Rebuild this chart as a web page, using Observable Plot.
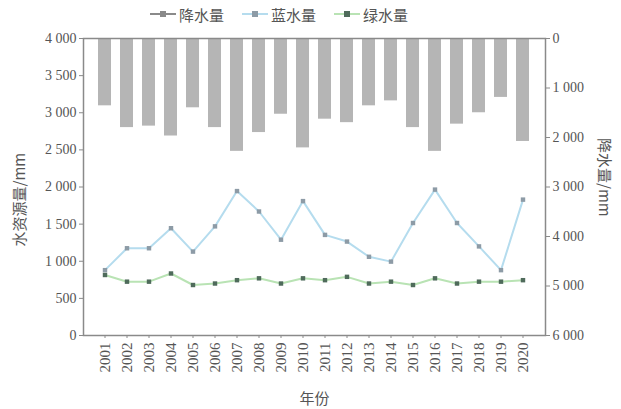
<!DOCTYPE html>
<html><head><meta charset="utf-8">
<script src="https://cdn.jsdelivr.net/npm/d3@7"></script>
<script src="https://cdn.jsdelivr.net/npm/@observablehq/plot@0.6"></script>
<style>
body{margin:0;background:#fff;width:621px;height:409px;overflow:hidden;font-family:"Liberation Serif","Noto Sans CJK SC",serif;}
#legend{height:28px;display:flex;align-items:center;justify-content:flex-start;padding-left:150px;font-family:"Noto Sans CJK SC",sans-serif;font-size:15px;color:#555;}
.item{display:flex;align-items:center;margin-right:18px;}
.item svg{margin-right:3px;}
</style></head><body>
<div id="legend"></div>
<div id="chart"></div>
<script>
const years = ["2001","2002","2003","2004","2005","2006","2007","2008","2009","2010","2011","2012","2013","2014","2015","2016","2017","2018","2019","2020"];
const precipitation = [1360,1800,1770,1970,1400,1800,2280,1900,1530,2210,1630,1700,1360,1260,1800,2280,1730,1500,1190,2080];
const blueWater = [880,1175,1175,1445,1130,1470,1945,1670,1290,1810,1355,1265,1060,995,1515,1965,1515,1200,880,1830];
const greenWater = [815,725,725,835,680,700,745,770,700,770,745,790,700,725,680,770,700,725,725,745];
const leftTicks = [0,500,1000,1500,2000,2500,3000,3500,4000];
const rightTicks = [0,1000,2000,3000,4000,5000,6000];
const seriesNames = ["降水量","蓝水量","绿水量"];

const colors = {bar:"#b5b5b5", blue:"#b5dcee", blueDot:"#8d9ba6", green:"#b9e3b4", greenDot:"#4f6b5b", axis:"#8a8a8a"};
const fmt = v => v >= 1000 ? d3.format(",")(v).replace(/,/g, " ") : String(v);
const toLeft = p => 4000 - p * 4000 / 6000;

const data = years.map((y, i) => ({year: y, p: precipitation[i], blue: blueWater[i], green: greenWater[i]}));

// legend
const leg = document.getElementById("legend");
const legColors = [["#8a8a8a","#8a8a8a"],[colors.blue, colors.blueDot],[colors.green, colors.greenDot]];
seriesNames.forEach((n, i) => {
  const d = document.createElement("div"); d.className = "item";
  d.innerHTML = `<svg width="26" height="10"><line x1="0" x2="26" y1="5" y2="5" stroke="${legColors[i][0]}" stroke-width="2"/><rect x="10" y="2" width="6" height="6" fill="${legColors[i][1]}"/></svg><span>${n}</span>`;
  leg.appendChild(d);
});

const plot = Plot.plot({
  width: 621,
  height: 381,
  marginTop: 10,
  marginBottom: 74,
  marginLeft: 83,
  marginRight: 76,
  style: {fontFamily: "Liberation Serif, serif", fontSize: "14px", color: "#555"},
  x: {type: "band", domain: years, paddingInner: 0.4, paddingOuter: 0.65, axis: null},
  y: {domain: [0, 4000], axis: null},
  marks: [
    Plot.barY(data, {x: "year", y1: 4000, y2: d => toLeft(d.p), fill: colors.bar}),
    Plot.line(data, {x: "year", y: "blue", stroke: colors.blue, strokeWidth: 2}),
    Plot.dot(data, {x: "year", y: "blue", fill: colors.blueDot, r: 2.5, symbol: "square"}),
    Plot.line(data, {x: "year", y: "green", stroke: colors.green, strokeWidth: 2}),
    Plot.dot(data, {x: "year", y: "green", fill: colors.greenDot, r: 2.5, symbol: "square"}),
    Plot.frame({stroke: colors.axis, strokeWidth: 1.5}),
    Plot.axisY(leftTicks, {anchor: "left", tickSize: 4, tickPadding: 3, tickFormat: fmt, label: null, stroke: colors.axis}),
    Plot.axisY(rightTicks.map(toLeft), {anchor: "right", tickSize: 4, tickPadding: 3, tickFormat: v => fmt(Math.round((4000 - v) * 1.5)), label: null, stroke: colors.axis}),
    Plot.axisX(years, {anchor: "bottom", tickSize: 3, tickPadding: 4, tickRotate: -90, label: null, stroke: colors.axis, fontSize: 15}),
    Plot.text(["水资源量/mm"], {y: 1200, frameAnchor: "left", dx: -63, rotate: -90, fontSize: 15, fontFamily: "Noto Sans CJK SC", fill: "#555"}),
    Plot.text(["降水量/mm"], {y: 1600, frameAnchor: "right", dx: 58, rotate: 90, fontSize: 15, fontFamily: "Noto Sans CJK SC", fill: "#555"}),
    Plot.text(["年份"], {frameAnchor: "bottom", dy: 68, fontSize: 15, fontFamily: "Noto Sans CJK SC", fill: "#555"})
  ]
});
document.getElementById("chart").appendChild(plot);
</script>
</body></html>
